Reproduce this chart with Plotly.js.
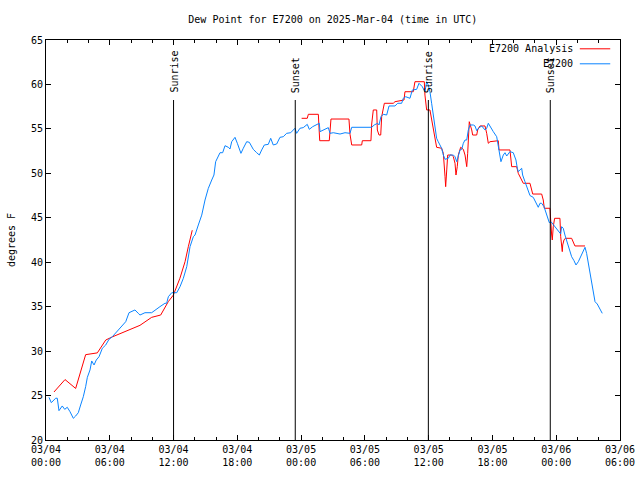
<!DOCTYPE html>
<html>
<head>
<meta charset="utf-8">
<script src="https://cdn.plot.ly/plotly-3.0.1.min.js"></script>
<style>html,body{margin:0;padding:0;background:#fff;}#chart{width:640px;height:480px;}</style>
</head>
<body>
<div id="chart"></div>
<script>
// Hours since 2025-03-04 00:00 UTC
const analysisHours = [0.75,1.79,2.79,3.73,4.83,5.62,6.24,6.87,8.28,8.84,9.94,10.79,11.5,11.98,12.6,13.08,13.39,13.76,null,
  24.05,24.58,24.68,25.62,25.75,26.65,26.81,28.5,28.6,28.76,
  29.7,29.76,30.57,30.64,30.79,31.11,31.17,31.33,31.49,31.58,
  31.83,32.67,32.83,33.68,33.77,34.55,34.71,35.59,35.65,35.81,
  36.12,36.34,36.6,36.75,37.22,37.38,37.54,37.6,37.7,37.79,
  38.17,38.32,38.48,38.57,38.69,38.79,39.01,39.26,39.42,39.58,
  39.67,39.79,39.82,40.05,40.14,40.52,40.61,40.83,41.3,41.46,
  41.61,41.77,42.55,42.62,43.65,43.81,44.28,44.43,44.75,44.9,
  45.53,45.79,46.63,46.78,46.88,47.41,47.57,47.63,47.72,47.85,
  48.35,48.42,48.57,48.61,48.73,48.85,49.45,49.6,49.76,50.71];
const analysisDew = [25.4,26.8,25.8,29.6,29.8,31.25,31.6,31.9,32.6,32.9,33.8,34.06,35.56,36.3,38.2,40.06,41.75,43.6,null,
  56.19,56.19,56.64,56.64,53.67,53.67,56.11,56.11,54.4,53.19,
  53.19,53.67,53.67,55.55,57.13,57.13,54.87,54.31,54.31,56.37,
  57.88,57.88,58.06,58.25,59.18,59.18,60.31,60.31,58.81,57.13,
  57.13,55.63,54.12,52.93,52.82,52.25,49.62,48.5,50.38,52.06,
  52.06,51.87,51.13,49.81,50.75,52.06,52.93,52.7,52.06,50.75,
  52.25,54.5,55.81,54.88,54.31,54.31,54.88,55.33,55.33,54.5,
  53.38,53.56,53.67,52.63,52.63,50.75,50.75,50.0,49.25,48.88,
  48.88,47.67,47.67,47.0,46.07,46.07,43.06,42.5,44.0,44.94,
  44.94,42.87,41.19,41.94,42.5,42.69,42.69,42.31,41.83,41.83];

const obsHours = [0.28,0.5,0.91,1.06,1.22,1.53,1.76,2.0,2.26,2.57,
  2.79,3.04,3.26,3.51,3.73,3.89,4.14,4.3,4.52,4.73,
  4.99,5.3,5.62,5.93,6.24,6.56,6.87,7.18,7.5,7.81,
  8.02,8.37,8.68,8.84,9.31,9.94,10.72,11.19,11.35,11.51,
  11.83,12.3,12.61,12.92,13.24,13.55,13.86,14.02,14.33,14.65,
  14.96,15.27,15.59,15.8,15.96,16.21,16.37,16.62,16.84,17.15,
  17.31,17.47,17.78,18.0,18.34,18.56,18.88,19.13,19.5,19.82,
  20.07,20.29,20.54,20.91,21.14,21.38,21.7,22.01,22.32,22.64,
  23.02,23.42,23.58,23.89,24.2,24.58,24.77,25.09,25.47,25.71,
  25.78,26.09,26.34,26.56,26.72,27.03,27.66,28.13,28.6,28.76,
  30.64,30.88,31.2,31.33,31.51,31.73,32.05,32.27,32.83,33.09,
  33.46,33.61,33.84,34.24,34.46,34.87,35.09,35.4,35.65,35.81,
  35.96,36.12,36.28,36.43,36.59,36.75,36.9,37.07,37.22,37.38,
  37.54,37.85,38.01,38.32,38.48,38.64,38.79,38.95,39.11,39.26,
  39.42,39.58,39.73,39.89,40.2,40.36,40.52,40.67,40.83,40.99,
  41.3,41.46,41.61,41.77,42.08,42.4,42.55,42.71,42.8,43.02,
  43.18,43.34,43.49,43.65,43.96,44.21,44.34,44.43,44.75,44.84,
  45.06,45.22,45.37,45.53,45.84,46.16,46.31,46.47,46.63,46.85,
  47.04,47.16,47.35,47.51,47.63,47.88,48.1,48.29,48.42,48.51,
  48.66,48.82,48.98,49.13,49.29,49.45,49.67,49.86,50.08,50.3,
  50.55,50.71,50.86,51.02,51.18,51.34,51.49,51.65,51.86,52.12,
  52.33];
const obsDew = [24.8,24.2,24.7,24.7,23.3,23.83,23.45,23.68,23.18,22.44,
  22.7,23.07,23.94,24.87,26.0,27.05,27.88,28.89,28.44,29.0,
  29.37,30.32,30.69,31.33,31.62,32.07,32.38,32.94,33.31,34.32,
  34.44,34.63,34.25,34.06,34.32,34.32,35.0,35.38,35.38,36.12,
  36.57,36.57,37.25,38.19,39.5,41.75,42.87,43.06,44.19,45.3,
  47.0,48.31,49.25,49.81,51.31,52.06,52.32,52.32,53.11,52.93,
  52.74,53.56,54.05,53.38,52.25,52.82,53.56,53.49,52.7,52.32,
  52.06,52.63,53.19,53.26,53.94,53.19,53.3,54.05,54.12,54.5,
  54.57,55.07,54.5,55.07,55.14,55.51,54.95,55.25,55.44,55.63,
  54.69,54.88,55.07,55.14,54.5,54.57,54.42,54.57,54.5,55.18,
  55.18,55.44,55.63,55.44,56.37,56.64,56.56,57.58,57.58,57.88,
  57.88,58.44,58.62,58.44,59.37,59.45,60.13,59.75,59.18,60.31,
  59.94,59.18,57.88,56.75,55.4,53.94,53.56,53.19,52.82,52.06,
  51.58,51.69,52.06,52.06,51.87,51.31,51.95,52.63,52.7,53.38,
  53.75,53.75,54.88,55.44,55.44,55.33,54.8,55.07,55.2,55.33,
  54.88,55.07,55.63,55.25,54.69,54.12,53.0,51.5,51.31,52.06,
  52.32,51.95,52.25,52.44,52.32,51.5,50.57,50.19,50.57,49.81,
  49.06,48.5,48.0,47.5,47.3,46.5,46.18,46.63,46.63,46.25,
  45.5,44.94,44.45,44.56,44.38,44.0,43.63,43.44,43.18,44.0,
  43.82,43.06,42.5,41.94,41.19,40.62,40.18,39.69,40.06,40.62,
  41.37,41.68,41.0,39.88,38.75,37.63,36.5,35.56,35.3,34.7,
  34.25];

const eventHours = [12.0, 23.45, 35.97, 47.44];
const eventNames = ['Sunrise', 'Sunset', 'Sunrise', 'Sunset'];
const eventTop = 58.25;

const tickHours = [0, 6, 12, 18, 24, 30, 36, 42, 48, 54];
const tickLabels = ['03/04<br>00:00','03/04<br>06:00','03/04<br>12:00','03/04<br>18:00',
  '03/05<br>00:00','03/05<br>06:00','03/05<br>12:00','03/05<br>18:00',
  '03/06<br>00:00','03/06<br>06:00'];

const seriesNames = ['E7200 Analysis', 'E7200'];
const seriesColors = ['#ff0000', '#0a84ff'];

const FONT = 'DejaVu Sans Mono, monospace';

const traces = [
  {x: analysisHours, y: analysisDew, name: seriesNames[0], type: 'scatter', mode: 'lines',
   line: {color: seriesColors[0], width: 1}, connectgaps: false},
  {x: obsHours, y: obsDew, name: seriesNames[1], type: 'scatter', mode: 'lines',
   line: {color: seriesColors[1], width: 1}}
];

const shapes = eventHours.map(h => ({
  type: 'line', xref: 'x', yref: 'y', x0: h, x1: h, y0: 20, y1: eventTop,
  line: {color: '#000', width: 1}
}));
const annotations = eventHours.map((h, i) => ({
  x: h, y: eventTop, xref: 'x', yref: 'y', text: eventNames[i], showarrow: false,
  textangle: -90, xanchor: 'center', yanchor: 'bottom', yshift: 5,
  font: {family: FONT, size: 10, color: '#000'}
}));

// gnuplot-style key: text right-aligned, sample line to its right
seriesNames.forEach((n, i) => {
  const yp = 0.978 - i * 0.0375;
  annotations.push({x: 0.9216, y: yp, xref: 'paper', yref: 'paper', text: n, showarrow: false,
    xanchor: 'right', yanchor: 'middle', font: {family: FONT, size: 10, color: '#000'}});
  shapes.push({type: 'line', xref: 'paper', yref: 'paper', x0: 0.930, x1: 0.983, y0: yp, y1: yp,
    line: {color: seriesColors[i], width: 1}});
});

const axisCommon = {
  showline: true, linecolor: '#000', linewidth: 1, mirror: 'ticks',
  ticks: 'inside', ticklen: 5, tickcolor: '#000', tickwidth: 1,
  showgrid: false, zeroline: false,
  tickfont: {family: FONT, size: 10, color: '#000'}
};

const layout = {
  width: 640, height: 480,
  margin: {l: 46, r: 20, t: 40, b: 40},
  paper_bgcolor: '#fff', plot_bgcolor: '#fff',
  showlegend: false,
  font: {family: FONT, size: 10, color: '#000'},
  title: {text: 'Dew Point for E7200 on 2025-Mar-04 (time in UTC)', x: 0.52, xanchor: 'center',
          y: 0.96, yanchor: 'middle', font: {family: FONT, size: 10, color: '#000'}},
  xaxis: Object.assign({}, axisCommon, {
    range: [0, 54], tickmode: 'array', tickvals: tickHours, ticktext: tickLabels,
    minor: {tickmode: 'linear', tick0: 0, dtick: 2, ticks: 'inside', ticklen: 3, tickcolor: '#000'}
  }),
  yaxis: Object.assign({}, axisCommon, {
    range: [20, 65], tickmode: 'linear', tick0: 20, dtick: 5,
    title: {text: 'degrees F', standoff: 13, font: {family: FONT, size: 10, color: '#000'}}
  }),
  shapes: shapes,
  annotations: annotations
};

Plotly.newPlot('chart', traces, layout, {staticPlot: true, displayModeBar: false});
</script>
</body>
</html>
